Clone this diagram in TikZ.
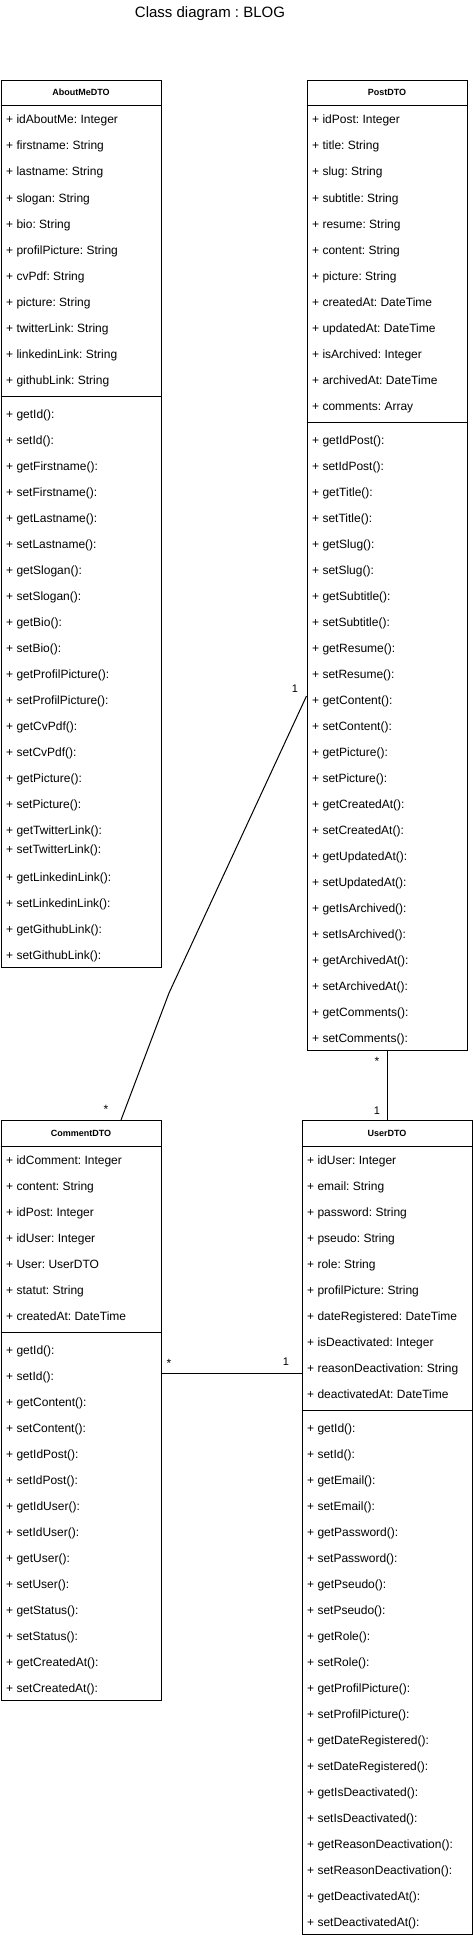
\documentclass[tikz,border=0pt]{standalone}
\usepackage{fontspec}
\setmainfont{Liberation Sans}
\usetikzlibrary{calc}
\frenchspacing
\begin{document}
\frenchspacing
\begin{tikzpicture}[x=1pt,y=-1pt,
  clsbox/.style={draw=black, line width=1pt, rectangle, inner sep=0pt, anchor=north west},
  item/.style={anchor=base west, inner sep=0pt, font=\fontsize{12}{14}\selectfont},
  hdr/.style={anchor=base, inner sep=0pt, font=\fontsize{9}{11}\selectfont\bfseries},
  mult/.style={inner sep=0pt, font=\fontsize{11}{13}\selectfont},
  sepline/.style={line width=1pt},
  assoc/.style={line width=1pt, draw=black}]
\useasboundingbox (0,0) rectangle (472,1937);

% title
\node[font=\fontsize{15}{18}\selectfont, anchor=base, inner sep=0pt] (title) at (210,17.5) {Class diagram : BLOG};

% ---------------- AboutMeDTO ----------------
\node[clsbox, minimum width=160pt, minimum height=887pt] (about) at (0.5,80) {};
\node[hdr] (aboutH) at ($(about.north)+(0,16)$) {AboutMeDTO};
\draw[sepline] (0.5,106) -- (160.5,106);
\draw[sepline] (0.5,396) -- (160.5,396);
\foreach \t [count=\i from 0] in {idAboutMe: Integer, firstname: String, lastname: String, slogan: String, bio: String, profilPicture: String, cvPdf: String, picture: String, twitterLink: String, linkedinLink: String, githubLink: String}
  \node[item] (aboutA\i) at (6, {124+26*\i}) {+ \t};
\foreach \t/\y [count=\i] in {getId()/400, setId()/426, getFirstname()/452, setFirstname()/478, getLastname()/504, setLastname()/530, getSlogan()/556, setSlogan()/582, getBio()/608, setBio()/634, getProfilPicture()/660, setProfilPicture()/686, getCvPdf()/712, setCvPdf()/738, getPicture()/764, setPicture()/790, getTwitterLink()/816, setTwitterLink()/835, getLinkedinLink()/863, setLinkedinLink()/889, getGithubLink()/915, setGithubLink()/941}
  \node[item] (aboutM\i) at (6, {\y+18}) {+ \t:};

% ---------------- PostDTO ----------------
\node[clsbox, minimum width=160pt, minimum height=970pt] (post) at (306.5,80) {};
\node[hdr] (postH) at ($(post.north)+(0,16)$) {PostDTO};
\draw[sepline] (306.5,106) -- (466.5,106);
\draw[sepline] (306.5,422) -- (466.5,422);
\foreach \t [count=\i from 0] in {idPost: Integer, title: String, slug: String, subtitle: String, resume: String, content: String, picture: String, createdAt: DateTime, updatedAt: DateTime, isArchived: Integer, archivedAt: DateTime, comments: Array}
  \node[item] (postA\i) at (312, {124+26*\i}) {+ \t};
\foreach \t [count=\i from 0] in {getIdPost(), setIdPost(), getTitle(), setTitle(), getSlug(), setSlug(), getSubtitle(), setSubtitle(), getResume(), setResume(), getContent(), setContent(), getPicture(), setPicture(), getCreatedAt(), setCreatedAt(), getUpdatedAt(), setUpdatedAt(), getIsArchived(), setIsArchived(), getArchivedAt(), setArchivedAt(), getComments(), setComments()}
  \node[item] (postM\i) at (312, {444+26*\i}) {+ \t:};

% ---------------- CommentDTO ----------------
\node[clsbox, minimum width=160pt, minimum height=580pt] (comment) at (0.5,1120) {};
\node[hdr] (commentH) at ($(comment.north)+(0,16)$) {CommentDTO};
\draw[sepline] (0.5,1146) -- (160.5,1146);
\draw[sepline] (0.5,1332) -- (160.5,1332);
\foreach \t [count=\i from 0] in {idComment: Integer, content: String, idPost: Integer, idUser: Integer, User: UserDTO, statut: String, createdAt: DateTime}
  \node[item] (commentA\i) at (6, {1164+26*\i}) {+ \t};
\foreach \t [count=\i from 0] in {getId(), setId(), getContent(), setContent(), getIdPost(), setIdPost(), getIdUser(), setIdUser(), getUser(), setUser(), getStatus(), setStatus(), getCreatedAt(), setCreatedAt()}
  \node[item] (commentM\i) at (6, {1354+26*\i}) {+ \t:};

% ---------------- UserDTO ----------------
\node[clsbox, minimum width=170pt, minimum height=814pt] (user) at (301.5,1120) {};
\node[hdr] (userH) at ($(user.north)+(0,16)$) {UserDTO};
\draw[sepline] (301.5,1146) -- (471.5,1146);
\draw[sepline] (301.5,1410) -- (471.5,1410);
\foreach \t [count=\i from 0] in {idUser: Integer, email: String, password: String, pseudo: String, role: String, profilPicture: String, dateRegistered: DateTime, isDeactivated: Integer, reasonDeactivation: String, deactivatedAt: DateTime}
  \node[item] (userA\i) at (307, {1164+26*\i}) {+ \t};
\foreach \t [count=\i from 0] in {getId(), setId(), getEmail(), setEmail(), getPassword(), setPassword(), getPseudo(), setPseudo(), getRole(), setRole(), getProfilPicture(), setProfilPicture(), getDateRegistered(), setDateRegistered(), getIsDeactivated(), setIsDeactivated(), getReasonDeactivation(), setReasonDeactivation(), getDeactivatedAt(), setDeactivatedAt()}
  \node[item] (userM\i) at (307, {1432+26*\i}) {+ \t:};

% ---------------- associations ----------------
\coordinate (pcBend) at (169,993);
\draw[assoc] ($(post.north west)+(0,616)$) -- (pcBend) -- ($(comment.north west)+(120.5,0)$);
\node[mult] (pcOne) at (295,689) {1};
\node[mult, font=\fontsize{12}{14}\selectfont] (pcStar) at (106,1109) {*};

\draw[assoc] (post.south) -- (user.north);
\node[mult, font=\fontsize{12}{14}\selectfont] (puStar) at (377,1061) {*};
\node[mult] (puOne) at (377,1111) {1};

\draw[assoc] ($(comment.north east)+(0,253)$) -- ($(user.north west)+(0,253)$);
\node[mult, font=\fontsize{12}{14}\selectfont] (cuStar) at (169,1363) {*};
\node[mult] (cuOne) at (286,1362) {1};
\end{tikzpicture}
\end{document}
